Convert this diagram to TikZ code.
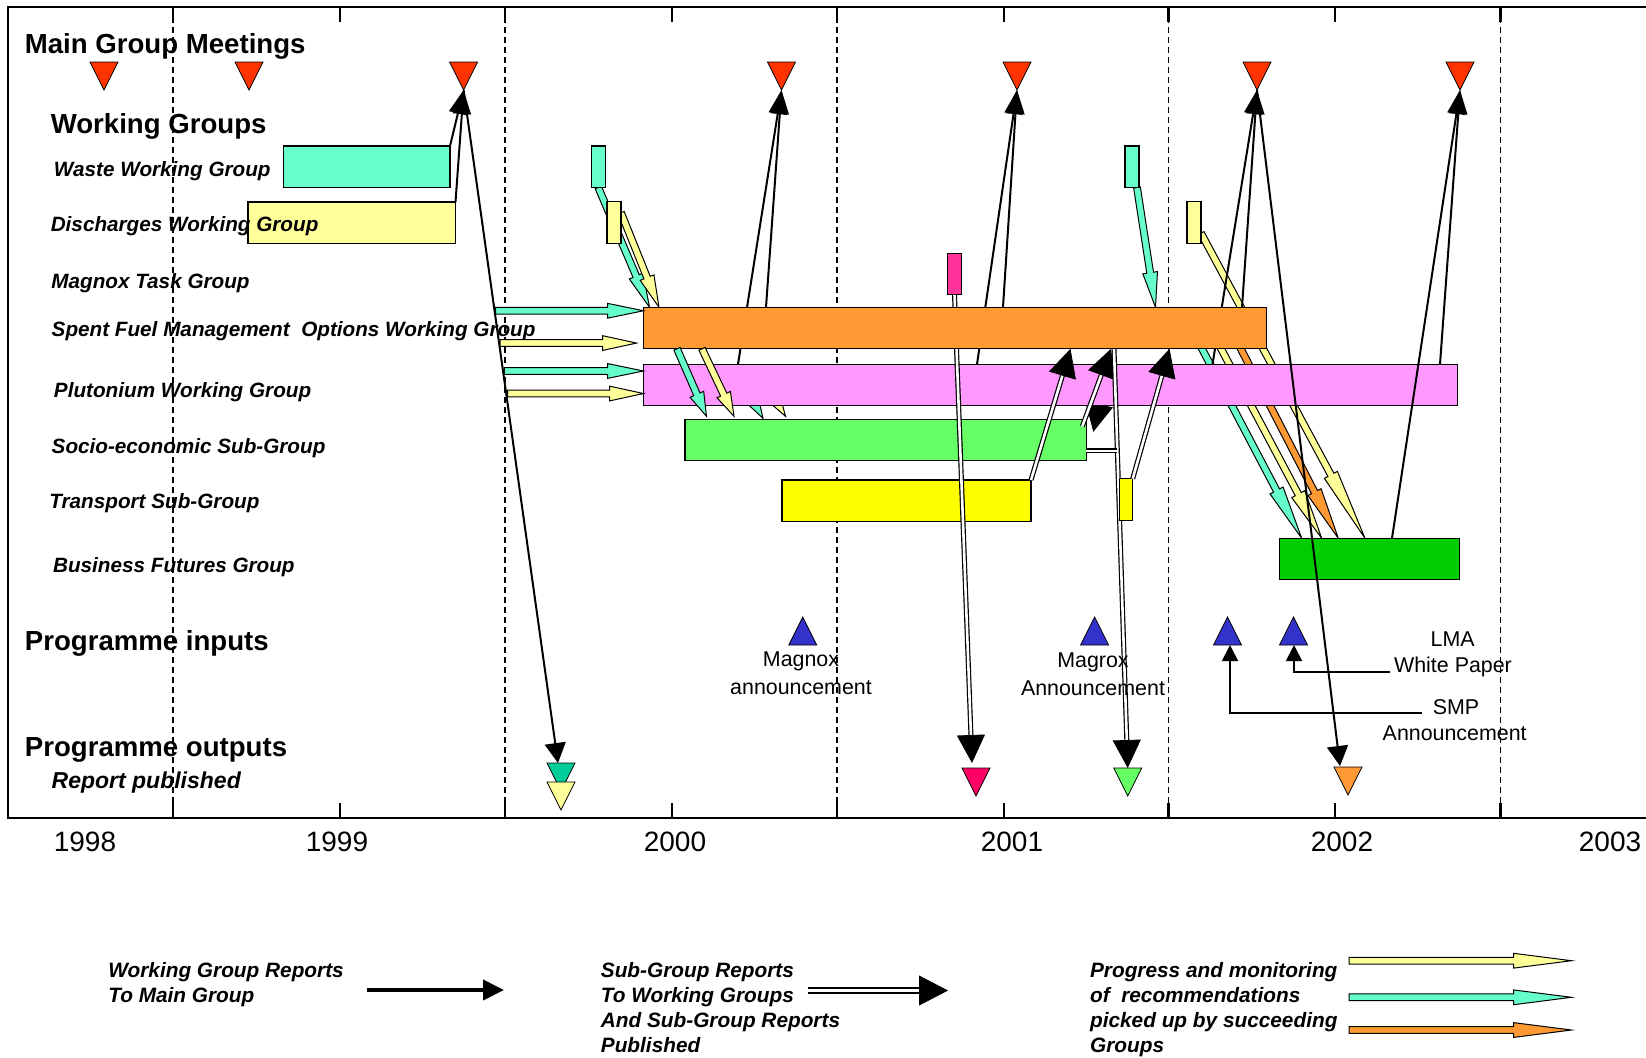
\documentclass[tikz,border=0pt]{standalone}
\usepackage{fontspec}
\setmainfont{Liberation Sans}
\usetikzlibrary{arrows.meta, calc}

\definecolor{aqua}{HTML}{66FFCC}
\definecolor{paleyellow}{HTML}{FFFF99}
\definecolor{sfmorange}{HTML}{FF9933}
\definecolor{plupink}{HTML}{FF99FF}
\definecolor{socgreen}{HTML}{66FF66}
\definecolor{transyellow}{HTML}{FFFF00}
\definecolor{bfgreen}{HTML}{00CC00}
\definecolor{magpink}{HTML}{FF3399}
\definecolor{meetred}{HTML}{FF3300}
\definecolor{inblue}{HTML}{3333CC}
\definecolor{outteal}{HTML}{00CC99}
\definecolor{outpink}{HTML}{FF0066}

\pgfdeclarelayer{back}
\pgfdeclarelayer{bars}
\pgfdeclarelayer{links}
\pgfsetlayers{back,bars,links,main}

% down triangle: name, x, top, fill
\newcommand{\mtri}[4]{%
	\draw[fill=#4, line width=0.4pt] (#2-14,#3) -- (#2+14,#3) -- (#2,#3+28) -- cycle;
	\coordinate (#1-top) at (#2,#3);
	\coordinate (#1-tip) at (#2,#3+28);}
% up triangle: name, x, apex
\newcommand{\itri}[3]{%
	\draw[fill=inblue, line width=0.4pt] (#2,#3) -- (#2+14,#3+28) -- (#2-14,#3+28) -- cycle;
	\coordinate (#1-base) at (#2,#3+28);}
% block arrow: fill, head length, from, to
\newcommand{\fatarrow}[4]{%
	\coordinate (fa-s) at #3;
	\coordinate (fa-e) at #4;
	\coordinate (fa-h) at ($(fa-e)!#2!(fa-s)$);
	\filldraw[fill=#1, draw=black, line width=0.5pt, line join=miter]
		($(fa-s)!1.7pt!90:(fa-e)$) -- ($(fa-h)!1.7pt!-90:(fa-s)$)
		-- ($(fa-h)!3.7pt!-90:(fa-s)$) -- (fa-e)
		-- ($(fa-h)!3.7pt!90:(fa-s)$) -- ($(fa-h)!1.7pt!90:(fa-s)$)
		-- ($(fa-s)!1.7pt!-90:(fa-e)$) -- cycle;}
% double line with a black head
\newcommand{\subarrow}[2]{%
	\coordinate (sa) at #1;
	\coordinate (sb) at #2;
	\draw[subline, shorten >=13pt] (sa) -- (sb);
	\draw[subhead] ($(sb)!14pt!(sa)$) -- (sb);}

\begin{document}
\begin{tikzpicture}[x=0.5pt, y=-0.5pt,
	bar/.style={draw, line width=0.6pt, inner sep=0pt, outer sep=0pt,
				anchor=north west, minimum height=20.75pt},
	tabbar/.style={bar, minimum width=7pt},
	heading/.style={anchor=west, inner sep=0pt, font=\bfseries\fontsize{13.8}{16}\selectfont},
	group/.style={anchor=west, inner sep=0pt, font=\bfseries\itshape\fontsize{10.35}{12}\selectfont},
	note/.style={inner sep=0pt, align=center, font=\fontsize{10.7}{14}\selectfont},
	legendtext/.style={anchor=north west, inner sep=0pt, align=left,
				font=\bfseries\itshape\fontsize{10.4}{12.5}\selectfont},
	year/.style={inner sep=0pt, font=\fontsize{14}{16}\selectfont},
	halfyear/.style={dash pattern=on 3pt off 2pt, line width=0.6pt},
	report/.style={line width=1pt, -{Triangle[length=12pt, width=9pt]}},
	publish/.style={line width=1pt, -{Triangle[length=10pt, width=10.5pt]}},
	subline/.style={double, double distance=1.3pt, line width=0.6pt},
	subhead/.style={line width=0.4pt, -{Triangle[length=14pt, width=14pt]}},
	inarrow/.style={line width=0.9pt, -{Triangle[length=8pt, width=8pt]}}]

	\useasboundingbox (0,0) rectangle (1646,1057);

	% time axis
	\begin{pgfonlayer}{back}
		\draw[line width=1pt] (1646,7) -- (8,7) -- (8,818) -- (1646,818);
		\foreach \x in {173,505,837,1168.5,1500.5} {
			\draw[halfyear] (\x,7) -- (\x,818);
			\draw[line width=1.4pt] (\x,7) -- (\x,22) (\x,818) -- (\x,803);
		}
		\foreach \x in {340,672,1004,1335}
			\draw[line width=0.7pt] (\x,7) -- (\x,22) (\x,818) -- (\x,803);
	\end{pgfonlayer}
	\foreach \yr/\x in {1998/85, 1999/337, 2000/675, 2001/1012, 2002/1342, 2003/1610}
		\node[year] (y\yr) at (\x,841.7) {\yr};

	% groups
	\begin{pgfonlayer}{bars}
		\node[bar, fill=aqua, minimum width=83.25pt] (waste) at (283.5,146) {};
		\node[bar, fill=paleyellow, minimum width=103.75pt] (disch) at (248,202) {};
		\node[bar, fill=plupink, minimum width=407pt] (pluto) at (643.5,364.3) {};
		\node[bar, fill=socgreen, minimum width=200.65pt] (socio) at (685,419.3) {};
		\node[bar, fill=transyellow, minimum width=124.5pt] (trans) at (782,480) {};
		\node[bar, fill=bfgreen, minimum width=90pt] (bfg) at (1279.7,538.3) {};
		\node[tabbar, fill=magpink] (magbox) at (947.5,253.3) {};
		\node[tabbar, fill=aqua] (wasteA) at (591.3,146) {};
		\node[tabbar, fill=aqua] (wasteB) at (1125,146) {};
		\node[tabbar, fill=paleyellow] (dischA) at (607,201.7) {};
		\node[tabbar, fill=paleyellow] (dischB) at (1187,201.7) {};
	\end{pgfonlayer}
	\node[bar, fill=sfmorange, minimum width=311.4pt] (sfmo) at (643.5,307.3) {};
	\node[tabbar, fill=transyellow, minimum width=6.7pt] (transb) at (1119.3,478.7) {};

	% meetings, outputs, inputs
	\mtri{m1}{104}{62}{meetred}
	\mtri{m2}{249}{62}{meetred}
	\mtri{m3}{463.6}{62}{meetred}
	\mtri{m4}{781.5}{62}{meetred}
	\mtri{m5}{1017}{62}{meetred}
	\mtri{m6}{1257}{62}{meetred}
	\mtri{m7}{1460}{62}{meetred}
	\mtri{outa}{561}{763}{outteal}
	\mtri{outb}{561}{782}{paleyellow}
	\mtri{outp}{976}{768}{outpink}
	\mtri{outg}{1127.7}{768}{socgreen}
	\mtri{outo}{1348}{767}{sfmorange}
	\itri{in1}{802.8}{617}
	\itri{in2}{1094.6}{617}
	\itri{in3}{1227.5}{617}
	\itri{in4}{1293.5}{617}

	% labels
	\node[heading] (hmeet) at (24.5,46) {Main Group Meetings};
	\node[heading] (hwg) at (50.4,126.5) {Working Groups};
	\node[group] (lwaste) at (53.6,171) {Waste Working Group};
	\node[group] (ldisch) at (50.4,226) {Discharges Working Group};
	\node[group] (lmag) at (51,283) {Magnox Task Group};
	\node[group] (lsfmo) at (51.3,331) {Spent Fuel Management\ \ Options Working Group};
	\node[group] (lpluto) at (53.6,392) {Plutonium Working Group};
	\node[group] (lsocio) at (51.3,448) {Socio-economic Sub-Group};
	\node[group] (ltrans) at (49,503) {Transport Sub-Group};
	\node[group] (lbfg) at (52.7,567) {Business Futures Group};
	\node[heading] (hin) at (24.5,643) {Programme inputs};
	\node[heading] (hout) at (24.5,749.5) {Programme outputs};
	\node[group, font=\bfseries\itshape\fontsize{11.5}{13}\selectfont] (lrep) at (51.3,783) {Report published};
	\node[note] (magnox) at (801,673) {Magnox\\announcement};
	\node[note] (magrox) at (1093,674.5) {Magrox\\Announcement};
	\node[note] (lma) at (1452.7,639.3) {LMA};
	\node[note] (wp) at (1453,666.7) {White Paper};
	\node[note] (smp) at (1456,707) {SMP};
	\node[note] (smpann) at (1454.7,733.3) {Announcement};

	% working group reports to main group
	\draw[report] (waste.north east) -- (m3-tip);
	\draw[report] (disch.north east) -- (m3-tip);
	\draw[publish] (m3-tip) -- ($(outa-top)+(-3,0)$);
	\begin{pgfonlayer}{links}
		\draw[report] ($(sfmo.north west)+(122.5,0)$) -- (m4-tip);
		\draw[report] ($(pluto.north west)+(94.5,0)$) -- (m4-tip);
		\draw[report] ($(sfmo.north west)+(359.5,0)$) -- (m5-tip);
		\draw[report] ($(pluto.north west)+(333.5,0)$) -- (m5-tip);
		\draw[report] ($(sfmo.north west)+(598.5,0)$) -- (m6-tip);
		\draw[report] ($(pluto.north west)+(569,0)$) -- (m6-tip);
	\end{pgfonlayer}
	\draw[report] ($(bfg.north west)+(112.3,0)$) -- (m7-tip);
	\draw[report] ($(pluto.north west)+(796.5,0)$) -- (m7-tip);
	\draw[publish] (m6-tip) -- ($(outo-top)+(-8,-1)$);

	% sub-group reports
	\begin{pgfonlayer}{links}
		\subarrow{(magbox.south)}{($(outp-top)+(-4,-5)$)}
		\subarrow{(trans.north east)}{($(sfmo.south west)+(427,0)$)}
		\subarrow{($(socio.north east)+(-4,7)$)}{($(sfmo.south west)+(467.5,0)$)}
		\coordinate (d5a) at ($(sfmo.south west)+(470.5,0)$);
		\subarrow{(d5a)}{(outg-top)}
		\coordinate (d5m) at ($(d5a)!0.244!(outg-top)$);
		\coordinate (d6) at ($(socio.south east)+(0,-10)$);
		\draw[subline] (d6) -- (d6 -| d5m);
	\end{pgfonlayer}
	\subarrow{(transb.north east)}{($(sfmo.south west)+(526,0)$)}
	\begin{pgfonlayer}{back}
		\coordinate (d3tip) at ($(socio.north east)+(7,12.5)$);
		\coordinate (d3top) at ($(sfmo.south west)+(467.5,0)$);
		\draw[subhead] ($(d3tip)!14pt!(d3top)$) -- (d3tip);
	\end{pgfonlayer}

	% progress and monitoring
	\coordinate (a1) at ($(m3-tip)!0.328!(outa-top)$);
	\coordinate (a2) at ($(m3-tip)!0.376!(outa-top)$);
	\coordinate (a3) at ($(m3-tip)!0.4175!(outa-top)$);
	\coordinate (a4) at ($(m3-tip)!0.451!(outa-top)$);
	\fatarrow{aqua}{18pt}{(a1)}{(a1 -| sfmo.west)}
	\fatarrow{paleyellow}{17pt}{(a2)}{($(a2 -| sfmo.west)+(-7,0)$)}
	\fatarrow{aqua}{18pt}{(a3)}{(a3 -| pluto.west)}
	\fatarrow{paleyellow}{17pt}{(a4)}{(a4 -| pluto.west)}
	\fatarrow{aqua}{12pt}{($(sfmo.south west)+(33.5,0)$)}{($(socio.north west)+(21.5,-3)$)}
	\fatarrow{paleyellow}{12pt}{($(sfmo.south west)+(58.5,0)$)}{($(socio.north west)+(49,-3)$)}
	\begin{pgfonlayer}{back}
		\fatarrow{aqua}{17pt}{(wasteA.south)}{($(sfmo.north west)+(6,0)$)}
		\fatarrow{paleyellow}{16pt}{($(dischA.north east)+(0,11)$)}{($(sfmo.north west)+(15.5,0)$)}
		\fatarrow{aqua}{17.5pt}{($(wasteB.south east)+(-2,0)$)}{($(sfmo.north west)+(512,0)$)}
		\fatarrow{aqua}{12pt}{($(pluto.north west)+(100,20)$)}{($(socio.north west)+(78,-1)$)}
		\fatarrow{paleyellow}{12pt}{($(pluto.north west)+(122,20)$)}{($(socio.north west)+(100.5,-3)$)}
		\fatarrow{paleyellow}{36pt}{($(dischB.north east)+(0,31.5)$)}{($(bfg.north west)+(85.3,0)$)}
		\fatarrow{aqua}{27pt}{($(sfmo.south west)+(548.5,-19)$)}{($(bfg.north west)+(22,0)$)}
		\fatarrow{paleyellow}{25pt}{($(sfmo.south west)+(567.5,-19)$)}{($(bfg.north west)+(42,0)$)}
		\fatarrow{sfmorange}{26pt}{($(sfmo.south west)+(587.5,-19)$)}{($(bfg.north west)+(58.6,0)$)}
	\end{pgfonlayer}

	% inputs
	\draw[inarrow] ($(smp.west)+(-10,6)$) -| ($(in3-base)+(2.5,0)$);
	\draw[inarrow] ($(wp.west)+(-4,5)$) -| ($(in4-base)+(0.5,0)$);

	% key
	\node[legendtext] (key1) at (108,962) {Working Group Reports\\To Main Group};
	\node[legendtext] (key2) at (600.5,962) {Sub-Group Reports\\To Working Groups\\And Sub-Group Reports\\Published};
	\node[legendtext] (key3) at (1089.7,962) {Progress and monitoring\\of\ \ recommendations\\picked up by succeeding\\Groups};
	\coordinate (k1a) at (367.4,990);
	\coordinate (k1b) at (504,990);
	\draw[line width=2pt, -{Triangle[length=10.5pt, width=10pt]}] (k1a) -- (k1b);
	\coordinate (k2a) at (808.3,990.5);
	\coordinate (k2b) at (948,990.5);
	\draw[double, double distance=1.5pt, line width=1pt, shorten >=14pt] (k2a) -- (k2b);
	\draw[line width=0.4pt, -{Triangle[length=14.5pt, width=15pt]}] ($(k2b)+(-29,0)$) -- (k2b);
	\fatarrow{paleyellow}{29pt}{(1349,960.7)}{(1571.5,960.7)}
	\fatarrow{aqua}{29pt}{(1349,997.3)}{(1571.5,997.3)}
	\fatarrow{sfmorange}{29pt}{(1349,1030)}{(1571.5,1030)}

\end{tikzpicture}
\end{document}
